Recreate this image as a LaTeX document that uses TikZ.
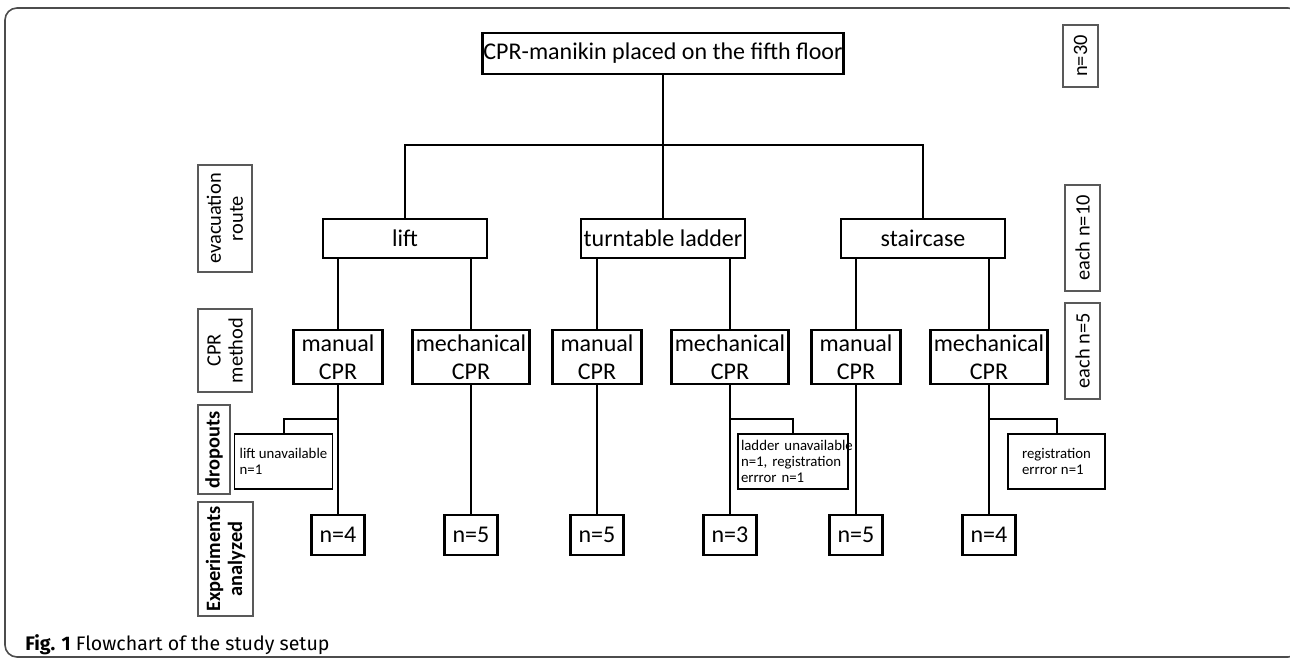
\documentclass[tikz,border=0pt]{standalone}
\usepackage{fontspec}
\setmainfont{Carlito}
\newfontfamily\capfont{Fira Sans}
\begin{document}
\begin{tikzpicture}[x=0.5pt,y=-0.5pt,
  box/.style={draw,line width=1.4pt,inner sep=0pt,align=center,font=\fontsize{12}{14}\selectfont},
  tag/.style={draw=black!65,line width=0.6pt,inner sep=0pt,rotate=90,align=center,font=\fontsize{10.2}{11}\selectfont},
  tagb/.style={tag,font=\fontsize{10.2}{11}\selectfont\bfseries},
  dropbox/.style={draw,line width=0.8pt,inner sep=2.5pt,align=left,minimum height=27.5pt,font=\fontsize{7.4}{8}\selectfont},
  link/.style={line width=1pt}]
  \useasboundingbox (0,0) rectangle (1290,660);
  \draw[black!70,line width=0.8pt,rounded corners=6pt] (5,8) rectangle (1300,657);
  % tree
  \node[box,minimum width=180.5pt,minimum height=20.5pt] (top) at (663,53.5) {CPR-manikin placed on the fifth floor};
  \coordinate (bus) at (663,145);
  \node[box,minimum width=82pt,minimum height=19.5pt] (lift) at (405,238.5) {lift};
  \node[box,minimum width=82pt,minimum height=19.5pt] (ladder) at (663,238.5) {turntable ladder};
  \node[box,minimum width=82pt,minimum height=19.5pt] (stair) at (923,238.5) {staircase};
  \node[box,minimum width=44.5pt,minimum height=27pt] (lman) at (338,357) {manual\\CPR};
  \node[box,minimum width=58.5pt,minimum height=27pt] (lmech) at (471,357) {mechanical\\CPR};
  \node[box,minimum width=44.5pt,minimum height=27pt] (tman) at (597,357) {manual\\CPR};
  \node[box,minimum width=58.5pt,minimum height=27pt] (tmech) at (730,357) {mechanical\\CPR};
  \node[box,minimum width=44.5pt,minimum height=27pt] (sman) at (856,357) {manual\\CPR};
  \node[box,minimum width=58.5pt,minimum height=27pt] (smech) at (989,357) {mechanical\\CPR};
  \node[dropbox,minimum width=48.5pt] (ldrop) at (283.5,461.5) {lift unavailable\\n=1};
  \node[dropbox,text width=52pt,inner xsep=1.5pt] (tdrop) at (793,461.5) {\mbox{ladder unavailable}\\n=1, registration\\errror n=1};
  \node[dropbox,minimum width=48.5pt] (sdrop) at (1056.5,461.5) {registration\\errror n=1};
  \node[box,minimum width=26.5pt,minimum height=20pt] (lres) at (338,535) {n=4};
  \node[box,minimum width=26.5pt,minimum height=20pt] (lmres) at (471,535) {n=5};
  \node[box,minimum width=26.5pt,minimum height=20pt] (tres) at (597,535) {n=5};
  \node[box,minimum width=26.5pt,minimum height=20pt] (tmres) at (730,535) {n=3};
  \node[box,minimum width=26.5pt,minimum height=20pt] (sres) at (856,535) {n=5};
  \node[box,minimum width=26.5pt,minimum height=20pt] (smres) at (989,535) {n=4};
  \draw[link] (top) -- (ladder);
  \draw[link] (lift) -- (lift |- bus) -- (stair |- bus) -- (stair);
  \foreach \p/\c in {lift/lman,lift/lmech,ladder/tman,ladder/tmech,stair/sman,stair/smech}
    \draw[link] (\p.south -| \c) -- (\c);
  \foreach \c/\r in {lman/lres,lmech/lmres,tman/tres,tmech/tmres,sman/sres,smech/smres}
    \draw[link] (\c) -- (\r);
  \draw[link] (ldrop.north) -- ++(0,-14) -| (lman);
  \draw[link] (tdrop.north) -- ++(0,-14) -| (tmech);
  \draw[link] (sdrop.north) -- ++(0,-14) -| (smech);
  % row labels
  \node[tag,minimum width=53.5pt,minimum height=27pt] (evac) at (225,218.5) {evacuation\\route};
  \node[tag,minimum width=41.5pt,minimum height=27pt] (cprm) at (225,350.5) {CPR\\method};
  \node[tagb,minimum width=44.5pt,minimum height=16pt] (drop) at (214,449.5) {dropouts};
  \node[tagb,minimum width=57pt,minimum height=27.5pt] (expt) at (225.5,559) {Experiments\\analyzed};
  \node[tag,minimum width=31pt,minimum height=17.5pt] (n30) at (1080.5,56) {n=30};
  \node[tag,minimum width=53pt,minimum height=17.5pt] (each10) at (1082.5,238) {each n=10};
  \node[tag,minimum width=48pt,minimum height=17.5pt] (each5) at (1082.5,351) {each n=5};
  \node[anchor=base west,inner sep=0pt,font=\capfont\fontsize{9.8}{11}\selectfont] (cap) at (25,650) {\textbf{Fig. 1} Flowchart of the study setup};
\end{tikzpicture}
\end{document}
